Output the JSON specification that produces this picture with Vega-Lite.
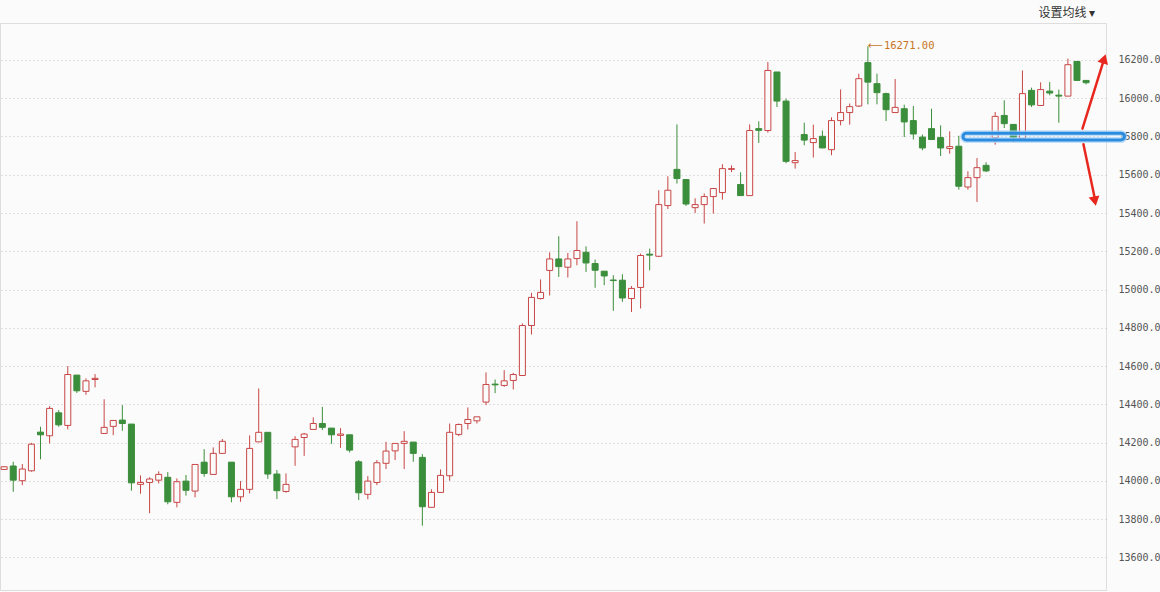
{
  "$schema": "https://vega.github.io/schema/vega-lite/v6.json",
  "width": 1106,
  "height": 567,
  "autosize": "none",
  "padding": {"left": 0, "top": 23, "right": 54, "bottom": 2},
  "background": "#fbfbfb",
  "config": {"view": {"stroke": "#dddddd"}, "font": "DejaVu Sans"},
  "title": {"text": "设置均线 ▾", "anchor": "end", "orient": "top", "font": "Noto Sans CJK SC", "fontSize": 12, "fontWeight": "normal", "color": "#333333", "offset": 3, "dx": -65},
  "datasets": {
    "k": [
      {"i":0,"o":14060,"h":14076,"l":14058,"c":14074},
      {"i":1,"o":14078,"h":14100,"l":13943,"c":14004},
      {"i":2,"o":14001,"h":14088,"l":13978,"c":14062},
      {"i":3,"o":14053,"h":14199,"l":14048,"c":14192},
      {"i":4,"o":14255,"h":14283,"l":14113,"c":14241},
      {"i":5,"o":14236,"h":14391,"l":14196,"c":14379},
      {"i":6,"o":14356,"h":14370,"l":14283,"c":14293},
      {"i":7,"o":14290,"h":14600,"l":14269,"c":14556},
      {"i":8,"o":14553,"h":14553,"l":14460,"c":14471},
      {"i":9,"o":14468,"h":14536,"l":14450,"c":14523},
      {"i":10,"o":14530,"h":14558,"l":14489,"c":14536},
      {"i":11,"o":14248,"h":14427,"l":14248,"c":14280},
      {"i":12,"o":14285,"h":14316,"l":14239,"c":14316},
      {"i":13,"o":14318,"h":14396,"l":14262,"c":14300},
      {"i":14,"o":14297,"h":14297,"l":13949,"c":13990},
      {"i":15,"o":13982,"h":14029,"l":13933,"c":13992},
      {"i":16,"o":13992,"h":14019,"l":13831,"c":14010},
      {"i":17,"o":14004,"h":14050,"l":13987,"c":14034},
      {"i":18,"o":14019,"h":14046,"l":13878,"c":13891},
      {"i":19,"o":13888,"h":14013,"l":13862,"c":13996},
      {"i":20,"o":13999,"h":14031,"l":13923,"c":13951},
      {"i":21,"o":13947,"h":14086,"l":13914,"c":14086},
      {"i":22,"o":14098,"h":14166,"l":14022,"c":14039},
      {"i":23,"o":14034,"h":14175,"l":14034,"c":14144},
      {"i":24,"o":14144,"h":14219,"l":14144,"c":14207},
      {"i":25,"o":14098,"h":14098,"l":13888,"c":13917},
      {"i":26,"o":13917,"h":13999,"l":13891,"c":13956},
      {"i":27,"o":13956,"h":14238,"l":13935,"c":14170},
      {"i":28,"o":14204,"h":14483,"l":14204,"c":14254},
      {"i":29,"o":14254,"h":14254,"l":14011,"c":14036},
      {"i":30,"o":14036,"h":14057,"l":13905,"c":13949},
      {"i":31,"o":13945,"h":14039,"l":13938,"c":13982},
      {"i":32,"o":14178,"h":14234,"l":14079,"c":14217},
      {"i":33,"o":14227,"h":14251,"l":14131,"c":14245},
      {"i":34,"o":14269,"h":14332,"l":14269,"c":14300},
      {"i":35,"o":14300,"h":14387,"l":14266,"c":14280},
      {"i":36,"o":14276,"h":14276,"l":14194,"c":14241},
      {"i":37,"o":14238,"h":14276,"l":14173,"c":14245},
      {"i":38,"o":14241,"h":14241,"l":14149,"c":14161},
      {"i":39,"o":14100,"h":14109,"l":13900,"c":13938},
      {"i":40,"o":13930,"h":14025,"l":13904,"c":13999},
      {"i":41,"o":13992,"h":14109,"l":13978,"c":14095},
      {"i":42,"o":14092,"h":14204,"l":14062,"c":14156},
      {"i":43,"o":14157,"h":14196,"l":14109,"c":14196},
      {"i":44,"o":14196,"h":14260,"l":14062,"c":14207},
      {"i":45,"o":14203,"h":14203,"l":14100,"c":14144},
      {"i":46,"o":14123,"h":14140,"l":13766,"c":13865},
      {"i":47,"o":13862,"h":13956,"l":13862,"c":13940},
      {"i":48,"o":13940,"h":14060,"l":13940,"c":14029},
      {"i":49,"o":14027,"h":14300,"l":14001,"c":14254},
      {"i":50,"o":14243,"h":14300,"l":14234,"c":14295},
      {"i":51,"o":14300,"h":14384,"l":14269,"c":14321},
      {"i":52,"o":14314,"h":14335,"l":14300,"c":14335},
      {"i":53,"o":14412,"h":14567,"l":14396,"c":14504},
      {"i":54,"o":14506,"h":14530,"l":14459,"c":14502},
      {"i":55,"o":14499,"h":14579,"l":14492,"c":14523},
      {"i":56,"o":14525,"h":14565,"l":14478,"c":14556},
      {"i":57,"o":14551,"h":14823,"l":14551,"c":14812},
      {"i":58,"o":14812,"h":14983,"l":14765,"c":14959},
      {"i":59,"o":14953,"h":15053,"l":14948,"c":14985},
      {"i":60,"o":15100,"h":15194,"l":14969,"c":15160},
      {"i":61,"o":15160,"h":15279,"l":15066,"c":15120},
      {"i":62,"o":15117,"h":15191,"l":15063,"c":15160},
      {"i":63,"o":15162,"h":15357,"l":15127,"c":15204},
      {"i":64,"o":15195,"h":15226,"l":15092,"c":15139},
      {"i":65,"o":15136,"h":15157,"l":15009,"c":15101},
      {"i":66,"o":15096,"h":15096,"l":15023,"c":15071},
      {"i":67,"o":15050,"h":15075,"l":14889,"c":15047},
      {"i":68,"o":15049,"h":15080,"l":14936,"c":14956},
      {"i":69,"o":14953,"h":15018,"l":14883,"c":15006},
      {"i":70,"o":15011,"h":15188,"l":14901,"c":15178},
      {"i":71,"o":15185,"h":15214,"l":15101,"c":15180},
      {"i":72,"o":15174,"h":15519,"l":15170,"c":15444},
      {"i":73,"o":15439,"h":15592,"l":15421,"c":15519},
      {"i":74,"o":15628,"h":15863,"l":15554,"c":15580},
      {"i":75,"o":15575,"h":15575,"l":15437,"c":15447},
      {"i":76,"o":15428,"h":15477,"l":15400,"c":15444},
      {"i":77,"o":15444,"h":15502,"l":15345,"c":15486},
      {"i":78,"o":15486,"h":15528,"l":15397,"c":15528},
      {"i":79,"o":15507,"h":15655,"l":15470,"c":15632},
      {"i":80,"o":15628,"h":15649,"l":15614,"c":15632},
      {"i":81,"o":15549,"h":15613,"l":15491,"c":15491},
      {"i":82,"o":15491,"h":15863,"l":15491,"c":15831},
      {"i":83,"o":15841,"h":15879,"l":15766,"c":15832},
      {"i":84,"o":15831,"h":16189,"l":15820,"c":16145},
      {"i":85,"o":16137,"h":16137,"l":15954,"c":15985},
      {"i":86,"o":15985,"h":15998,"l":15660,"c":15670},
      {"i":87,"o":15663,"h":15719,"l":15632,"c":15674},
      {"i":88,"o":15810,"h":15872,"l":15754,"c":15781},
      {"i":89,"o":15768,"h":15862,"l":15690,"c":15789},
      {"i":90,"o":15801,"h":15831,"l":15740,"c":15740},
      {"i":91,"o":15731,"h":15900,"l":15702,"c":15883},
      {"i":92,"o":15883,"h":16046,"l":15858,"c":15925},
      {"i":93,"o":15925,"h":15972,"l":15862,"c":15956},
      {"i":94,"o":15959,"h":16128,"l":15954,"c":16102},
      {"i":95,"o":16186,"h":16271,"l":15968,"c":16084},
      {"i":96,"o":16076,"h":16128,"l":15968,"c":16029},
      {"i":97,"o":16024,"h":16029,"l":15881,"c":15940},
      {"i":98,"o":15925,"h":16100,"l":15925,"c":15952},
      {"i":99,"o":15945,"h":15966,"l":15797,"c":15876},
      {"i":100,"o":15883,"h":15959,"l":15784,"c":15813},
      {"i":101,"o":15797,"h":15810,"l":15728,"c":15740},
      {"i":102,"o":15841,"h":15945,"l":15784,"c":15784},
      {"i":103,"o":15794,"h":15858,"l":15698,"c":15740},
      {"i":104,"o":15737,"h":15827,"l":15710,"c":15747},
      {"i":105,"o":15749,"h":15804,"l":15522,"c":15540},
      {"i":106,"o":15536,"h":15618,"l":15522,"c":15585},
      {"i":107,"o":15585,"h":15687,"l":15458,"c":15637},
      {"i":108,"o":15649,"h":15665,"l":15614,"c":15620},
      {"i":109,"o":15794,"h":15928,"l":15757,"c":15905},
      {"i":110,"o":15910,"h":15989,"l":15844,"c":15867},
      {"i":111,"o":15863,"h":15863,"l":15771,"c":15794},
      {"i":112,"o":15789,"h":16145,"l":15789,"c":16024},
      {"i":113,"o":16041,"h":16055,"l":15954,"c":15965},
      {"i":114,"o":15962,"h":16083,"l":15962,"c":16045},
      {"i":115,"o":16037,"h":16084,"l":16015,"c":16027},
      {"i":116,"o":16016,"h":16045,"l":15872,"c":16011},
      {"i":117,"o":16011,"h":16207,"l":16011,"c":16175},
      {"i":118,"o":16192,"h":16192,"l":16090,"c":16093},
      {"i":119,"o":16093,"h":16093,"l":16072,"c":16081}
    ],
    "maxlabel": [{"i":95,"v":16271,"label":"16271.00","arrow":"⟵"}],
    "box": [{"i1":105.46,"i2":123.22,"v1":15817.5,"v2":15781.5}],
    "arrowlines": [
      {"i1":118.6,"v1":15841,"i2":120.86,"v2":16186},
      {"i1":118.71,"v1":15759,"i2":119.93,"v2":15483}
    ],
    "headup": [{"i":120.99,"v":16206}],
    "headdown": [{"i":119.97,"v":15462}]
  },
  "layer": [
    {
      "data": {"name": "k"},
      "mark": {"type": "rule", "strokeWidth": 1, "clip": true},
      "encoding": {
        "x": {"field": "i", "type": "quantitative", "scale": {"domain": [0.095, 120.64], "nice": false, "zero": false}, "axis": null},
        "y": {"field": "l", "type": "quantitative", "title": null,
              "scale": {"domain": [13430, 16393], "nice": false, "zero": false},
              "axis": {"orient": "right", "values": [13600,13800,14000,14200,14400,14600,14800,15000,15200,15400,15600,15800,16000,16200],
                       "format": ".1f", "grid": true, "gridColor": "#c4c4c4", "gridDash": [1, 3], "gridWidth": 1,
                       "ticks": false, "domain": false, "labelPadding": 12, "labelFont": "DejaVu Sans Mono", "labelFontSize": 10,
                       "labelColor": "#555555", "labelBaseline": "middle"}},
        "y2": {"field": "h"},
        "color": {"condition": {"test": "datum.c >= datum.o", "value": "#c84646"}, "value": "#3b8e3b"}
      }
    },
    {
      "data": {"name": "k"},
      "mark": {"type": "bar", "size": 6, "strokeWidth": 1, "clip": true},
      "encoding": {
        "x": {"field": "i", "type": "quantitative", "scale": {"domain": [0.095, 120.64], "nice": false, "zero": false}, "axis": null},
        "y": {"field": "o", "type": "quantitative", "title": null, "scale": {"domain": [13430, 16393], "nice": false, "zero": false}},
        "y2": {"field": "c"},
        "stroke": {"condition": {"test": "datum.c >= datum.o", "value": "#c84646"}, "value": "#3b8e3b"},
        "fill": {"condition": {"test": "datum.c >= datum.o", "value": "#fbfbfb"}, "value": "#3b8e3b"}
      }
    },
    {
      "data": {"name": "maxlabel"},
      "mark": {"type": "text", "align": "left", "baseline": "middle", "dx": 0, "font": "DejaVu Sans", "fontSize": 10.5, "color": "#c8741e"},
      "encoding": {
        "x": {"field": "i", "type": "quantitative", "scale": {"domain": [0.095, 120.64], "nice": false, "zero": false}, "axis": null},
        "y": {"field": "v", "type": "quantitative", "title": null, "scale": {"domain": [13430, 16393], "nice": false, "zero": false}},
        "text": {"field": "arrow"}
      }
    },
    {
      "data": {"name": "maxlabel"},
      "mark": {"type": "text", "align": "left", "baseline": "middle", "dx": 16, "font": "DejaVu Sans Mono", "fontSize": 10.5, "color": "#c8741e"},
      "encoding": {
        "x": {"field": "i", "type": "quantitative", "scale": {"domain": [0.095, 120.64], "nice": false, "zero": false}, "axis": null},
        "y": {"field": "v", "type": "quantitative", "title": null, "scale": {"domain": [13430, 16393], "nice": false, "zero": false}},
        "text": {"field": "label"}
      }
    },
    {
      "data": {"name": "box"},
      "mark": {"type": "rect", "filled": false, "stroke": "#a9d3f5", "strokeWidth": 6, "cornerRadius": 5, "opacity": 0.7},
      "encoding": {
        "x": {"field": "i1", "type": "quantitative", "scale": {"domain": [0.095, 120.64], "nice": false, "zero": false}, "axis": null},
        "x2": {"field": "i2"},
        "y": {"field": "v1", "type": "quantitative", "title": null, "scale": {"domain": [13430, 16393], "nice": false, "zero": false}},
        "y2": {"field": "v2"}
      }
    },
    {
      "data": {"name": "box"},
      "mark": {"type": "rect", "filled": false, "stroke": "#2a8ce0", "strokeWidth": 3, "cornerRadius": 4},
      "encoding": {
        "x": {"field": "i1", "type": "quantitative", "scale": {"domain": [0.095, 120.64], "nice": false, "zero": false}, "axis": null},
        "x2": {"field": "i2"},
        "y": {"field": "v1", "type": "quantitative", "title": null, "scale": {"domain": [13430, 16393], "nice": false, "zero": false}},
        "y2": {"field": "v2"}
      }
    },
    {
      "data": {"name": "arrowlines"},
      "mark": {"type": "rule", "stroke": "#e8281e", "strokeWidth": 2.5, "strokeCap": "round"},
      "encoding": {
        "x": {"field": "i1", "type": "quantitative", "scale": {"domain": [0.095, 120.64], "nice": false, "zero": false}, "axis": null},
        "x2": {"field": "i2"},
        "y": {"field": "v1", "type": "quantitative", "title": null, "scale": {"domain": [13430, 16393], "nice": false, "zero": false}},
        "y2": {"field": "v2"}
      }
    },
    {
      "data": {"name": "headup"},
      "mark": {"type": "point", "shape": "triangle-up", "filled": true, "size": 120, "angle": 17.4, "color": "#e8281e", "opacity": 1},
      "encoding": {
        "x": {"field": "i", "type": "quantitative", "scale": {"domain": [0.095, 120.64], "nice": false, "zero": false}, "axis": null},
        "y": {"field": "v", "type": "quantitative", "title": null, "scale": {"domain": [13430, 16393], "nice": false, "zero": false}}
      }
    },
    {
      "data": {"name": "headdown"},
      "mark": {"type": "point", "shape": "triangle-up", "filled": true, "size": 120, "angle": 168.6, "color": "#e8281e", "opacity": 1},
      "encoding": {
        "x": {"field": "i", "type": "quantitative", "scale": {"domain": [0.095, 120.64], "nice": false, "zero": false}, "axis": null},
        "y": {"field": "v", "type": "quantitative", "title": null, "scale": {"domain": [13430, 16393], "nice": false, "zero": false}}
      }
    }
  ]
}
